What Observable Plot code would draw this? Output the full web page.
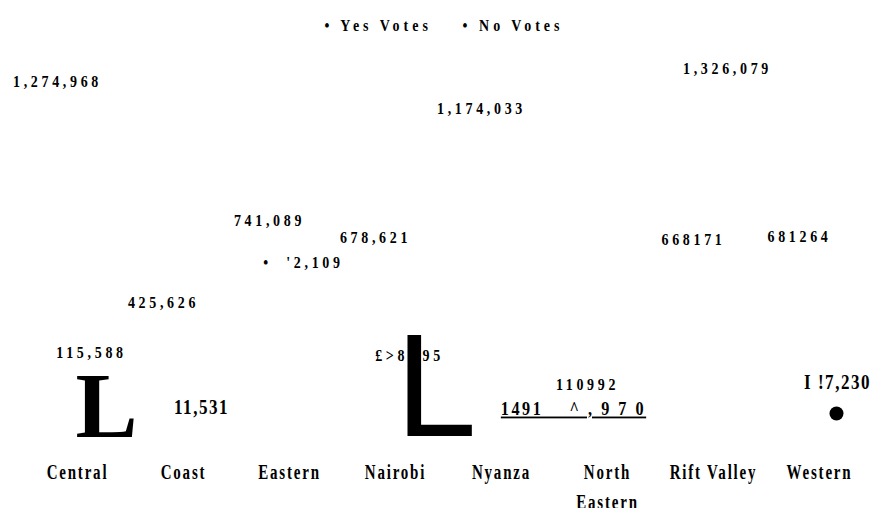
<!DOCTYPE html>
<html>
<head>
<meta charset="utf-8">
<script src="https://cdn.jsdelivr.net/npm/d3@7"></script>
<script src="https://cdn.jsdelivr.net/npm/@observablehq/plot@0.6"></script>
<style>
  html, body { margin: 0; padding: 0; background: #fff; }
  #legend {
    box-sizing: border-box; height: 45px; padding-top: 5px;
    display: flex; align-items: center; justify-content: center;
    gap: 4px; padding-left: 10px;
    font-family: "Liberation Serif", serif; font-weight: bold; font-size: 17.5px;
    letter-spacing: 5px; color: #000;
  }
  #legend span { display: inline-block; transform: scaleX(0.8); transform-origin: center; white-space: pre; }
  #chart svg text { white-space: pre; }
  #chart g.cat text { letter-spacing: 2.4px; }
  #chart g.lbl text { letter-spacing: 4.6px; }
  #chart g.tight text { letter-spacing: 1.8px; }
  #chart g.under text { letter-spacing: 2.8px; text-decoration: underline; }
</style>
</head>
<body>
<div id="legend"></div>
<div id="chart"></div>
<script>
// Categories (provinces) and series names
const categories = ["Central", "Coast", "Eastern", "Nairobi", "Nyanza", "North Eastern", "Rift Valley", "Western"];
const seriesNames = ["Yes Votes", "No Votes"];
const tickLabels = ["Central", "Coast", "Eastern", "Nairobi", "Nyanza", "North\nEastern", "Rift Valley", "Western"];

// Value labels as they appear in the picture
const labelText     = ["1,274,968", "425,626", "741,089", "678,621", "1,174,033", "110992", "668171", "681264",
                       "115,588", "11,531", "•  '2,109", "£>8, 95", "1,326,079", "I !7,230"];
const labelCategory = ["Central", "Coast", "Eastern", "Nairobi", "Nyanza", "North Eastern", "Rift Valley", "Western",
                       "Central", "Coast", "Eastern", "Nairobi", "Rift Valley", "Western"];
const labelSeries   = ["Yes Votes", "Yes Votes", "Yes Votes", "Yes Votes", "Yes Votes", "Yes Votes", "Yes Votes", "Yes Votes",
                       "No Votes", "No Votes", "No Votes", "No Votes", "No Votes", "No Votes"];
// label heights, estimated from where each label sits in the picture
const labelValue    = [1274968, 425626, 741089, 678621, 1174033, 110992, 668171, 681264,
                       234000, 22000, 580000, 223000, 1326079, 117230];

// Underlined fragment (North Eastern)
const underText     = ["1491    ^ , 9 7 0"];
const underCategory = ["North Eastern"];
const underValue    = [2970];

// Stray glyphs drawn at the baseline
const serifGlyphCategory = ["Central"];
const sansGlyphCategory  = ["Nairobi"];
const glyphText          = ["L"];
const dotCategory        = ["Western"];
const dotValue           = [0];

document.getElementById("legend").innerHTML =
  seriesNames.map(s => `<span>• ${s}</span>`).join("");

const idx = d3.range(labelText.length);
const isTight = i => labelSeries[i] === "No Votes" && (labelCategory[i] === "Coast" || labelCategory[i] === "Western");
const yesIdx = idx.filter(i => labelSeries[i] === "Yes Votes");
const noIdx = idx.filter(i => labelSeries[i] === "No Votes" && !isTight(i));
const tightIdx = idx.filter(isTight);

const chart = Plot.plot({
  width: 877,
  height: 463,
  marginTop: 23,
  marginBottom: 95,
  marginLeft: 0,
  marginRight: 0,
  style: { fontFamily: "Liberation Serif", background: "#fff", color: "#000", overflow: "visible" },
  x: { type: "band", domain: categories, range: [21, 875], padding: 0 },
  y: { domain: [0, 1326079], range: [368, 23], axis: null },
  marks: [
    Plot.axisX({
      tickSize: 0, tickPadding: 44, fontSize: 20, fontWeight: "bold", lineHeight: 1.5,
      tickFormat: d => tickLabels[categories.indexOf(d)], label: null, className: "cat"
    }),
    Plot.text(yesIdx, { x: i => labelCategory[i], y: i => labelValue[i], text: i => labelText[i],
      dx: -20, fontSize: 17.5, fontWeight: "bold", className: "lbl" }),
    Plot.text(noIdx, { x: i => labelCategory[i], y: i => labelValue[i], text: i => labelText[i],
      dx: 14, fontSize: 17.5, fontWeight: "bold", className: "lbl" }),
    Plot.text(tightIdx, { x: i => labelCategory[i], y: i => labelValue[i], text: i => labelText[i],
      dx: 18, fontSize: 20, fontWeight: "bold", className: "tight" }),
    Plot.text(d3.range(underText.length), {
      x: i => underCategory[i], y: i => underValue[i], text: i => underText[i],
      dx: -34, dy: -3, fontSize: 18, fontWeight: "bold", className: "under"
    }),
    Plot.text(serifGlyphCategory, {
      x: d => d, y: () => 0, text: (d, i) => glyphText[i], textAnchor: "start", lineAnchor: "bottom",
      dx: -2, dy: 23, fontSize: 93, fontWeight: "bold", fontFamily: "Liberation Serif"
    }),
    Plot.text(sansGlyphCategory, {
      x: d => d, y: () => 0, text: (d, i) => glyphText[i], textAnchor: "start", lineAnchor: "bottom",
      dx: 0, dy: 22, fontSize: 146, fontFamily: "Liberation Sans"
    }),
    Plot.dot(dotCategory, { x: d => d, y: (d, i) => dotValue[i], r: 7, fill: "#000", dx: 17 })
  ]
});

// condensed look of the original lettering
const squeeze = (sel, sx) => chart.querySelectorAll(sel).forEach(t =>
  t.setAttribute("transform", (t.getAttribute("transform") || "") + ` scale(${sx},1)`));
squeeze("g.cat text", 0.75);
squeeze("g.lbl text", 0.8);
squeeze("g.tight text", 0.85);
squeeze("g.under text", 0.9);

document.getElementById("chart").appendChild(chart);
</script>
</body>
</html>
